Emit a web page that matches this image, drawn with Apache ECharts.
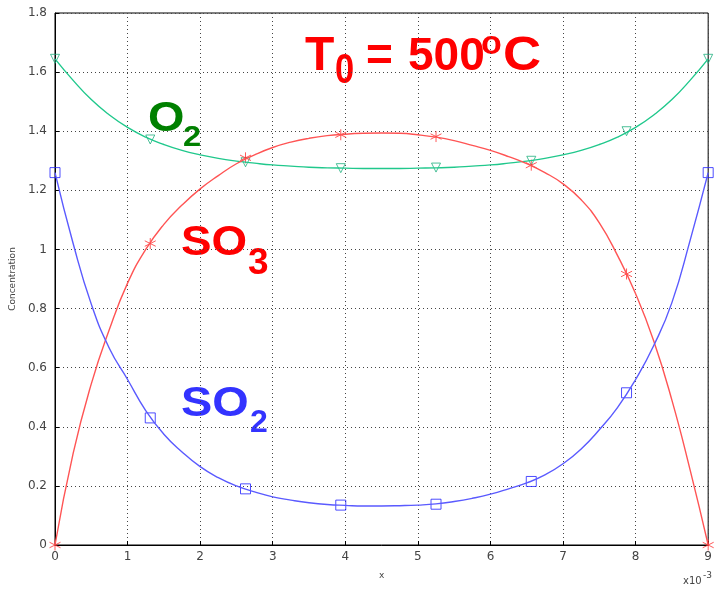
<!DOCTYPE html>
<html>
	<head>
		<meta charset="utf-8">
		<title></title>
		<script type="text/javascript" src="https://cdn.jsdelivr.net/npm/echarts@6/dist/echarts.min.js"></script>
	</head>
	<body style="margin:0;background:#fff;">
		<div id="chart" style="width:715px;height:592px;"></div>
		<script type="text/javascript">
			// curve samples, x in units of 1e-3
			var xs = [0, 0.25, 0.5, 0.75, 1, 1.25, 1.5, 1.75, 2, 2.25, 2.5, 2.75, 3, 3.25, 3.5, 3.75, 4, 4.25, 4.5,
				4.75, 5, 5.25, 5.5, 5.75, 6, 6.25, 6.5, 6.75, 7, 7.25, 7.5, 7.75, 8, 8.25, 8.5, 8.75, 9];
			var so2 = [1.26, 1.02, 0.815, 0.665, 0.56, 0.455, 0.375, 0.315, 0.265, 0.228, 0.2, 0.18, 0.163, 0.152, 0.143, 0.137, 0.134, 0.132, 0.132,
				0.133, 0.135, 0.139, 0.147, 0.158, 0.172, 0.19, 0.21, 0.237, 0.275, 0.325, 0.39, 0.465, 0.56, 0.675, 0.82, 1.03, 1.26];
			var so3 = [0, 0.31, 0.545, 0.73, 0.886, 1.0, 1.085, 1.15, 1.205, 1.25, 1.29, 1.32, 1.345, 1.363, 1.376, 1.385, 1.39, 1.393, 1.394,
				1.393, 1.388, 1.38, 1.368, 1.352, 1.335, 1.314, 1.29, 1.26, 1.222, 1.168, 1.09, 0.98, 0.85, 0.69, 0.49, 0.255, 0];
			var o2 = [1.645, 1.572, 1.507, 1.455, 1.413, 1.38, 1.355, 1.335, 1.32, 1.308, 1.299, 1.292, 1.286, 1.282, 1.278, 1.276, 1.275, 1.274, 1.274,
				1.274, 1.275, 1.276, 1.278, 1.282, 1.286, 1.292, 1.299, 1.308, 1.32, 1.335, 1.355, 1.38, 1.413, 1.455, 1.507, 1.572, 1.645];
			// marker positions and values
			var markX = [0, 1.3125, 2.625, 3.9375, 5.25, 6.5625, 7.875, 9];
			var o2Mark = [1.645, 1.372, 1.295, 1.275, 1.277, 1.30, 1.40, 1.645];
			var so3Mark = [0, 1.02, 1.31, 1.388, 1.382, 1.285, 0.917, 0];
			var so2Mark = [1.26, 0.43, 0.19, 0.135, 0.138, 0.215, 0.515, 1.26];

			function pairs(px, vals) {
				return px.map(function(x, i) { return [x, vals[i]]; });
			}

			// big bold label; sx stretches it sideways like the original
			function label(text, x, y, size, color, sx) {
				return {
					type: 'text', x: x, y: y, scaleX: sx || 1,
					style: { text: text, fill: color, font: 'bold ' + size + 'px "Liberation Sans"' }
				};
			}

			var myChart = echarts.init(document.getElementById('chart'));
			var dot = [1, 3];
			var asterisk = 'path://M0,-6L0,6M-5.2,-3L5.2,3M-5.2,3L5.2,-3';

			var option = {
				backgroundColor: '#fff',
				animation: false,
				grid: {
					left: 55, top: 13, right: 2, bottom: 47,
					show: true, borderColor: '#000', borderWidth: 1
				},
				xAxis: {
					type: 'value', min: 0, max: 9, interval: 1,
					name: 'x', nameLocation: 'middle', nameGap: 26,
					nameTextStyle: { fontFamily: 'DejaVu Sans', fontSize: 9, color: '#444' },
					axisLine: { lineStyle: { color: '#000' } },
					axisTick: { inside: true, length: 4, lineStyle: { color: '#000' } },
					axisLabel: { fontFamily: 'DejaVu Sans', fontSize: 12, color: '#444', margin: 6 },
					splitLine: { lineStyle: { color: '#444', type: dot } }
				},
				yAxis: {
					type: 'value', min: 0, max: 1.8, interval: 0.2,
					name: 'Concentration', nameLocation: 'middle', nameGap: 34, nameRotate: 90,
					nameTextStyle: { fontFamily: 'DejaVu Sans', fontSize: 9, color: '#444' },
					axisLine: { lineStyle: { color: '#000' } },
					axisTick: { inside: true, length: 4, lineStyle: { color: '#000' } },
					axisLabel: { fontFamily: 'DejaVu Sans', fontSize: 12, color: '#444', margin: 8 },
					splitLine: { lineStyle: { color: '#444', type: dot } }
				},
				series: [
					{ type: 'line', data: pairs(xs, o2), smooth: 0.5, showSymbol: false,
						lineStyle: { color: '#20c88c', width: 1.4 } },
					{ type: 'line', data: pairs(xs, so3), smooth: 0.5, showSymbol: false,
						lineStyle: { color: '#ff5454', width: 1.4 } },
					{ type: 'line', data: pairs(xs, so2), smooth: 0.5, showSymbol: false,
						lineStyle: { color: '#5a5aff', width: 1.4 } },
					{ type: 'scatter', data: pairs(markX, o2Mark), symbol: 'triangle', symbolRotate: 180, symbolSize: 9,
						itemStyle: { color: 'rgba(0,0,0,0)', borderColor: '#20b080', borderWidth: 1 } },
					{ type: 'scatter', data: pairs(markX, so3Mark), symbol: asterisk, symbolSize: 11,
						itemStyle: { color: 'rgba(0,0,0,0)', borderColor: '#ff3030', borderWidth: 1 } },
					{ type: 'scatter', data: pairs(markX, so2Mark), symbol: 'rect', symbolSize: 10,
						itemStyle: { color: 'rgba(0,0,0,0)', borderColor: '#2020ff', borderWidth: 1 } }
				],
				graphic: [
					// T0 = 500oC
					label('T', 305, 33, 48, '#ff0000'),
					label('0', 335, 50, 42, '#ff0000', 0.82),
					label('=', 366, 34, 46, '#ff0000'),
					label('500', 408, 34, 46, '#ff0000'),
					label('o', 481, 28, 34, '#ff0000'),
					label('C', 503, 33, 48, '#ff0000', 1.1),
					// O2
					label('O', 148, 98, 43, '#008000', 1.09),
					label('2', 183, 123, 30, '#008000', 1.09),
					// SO3
					label('SO', 181, 222, 42, '#ff0000', 1.09),
					label('3', 248, 245, 37, '#ff0000', 1.0),
					// SO2
					label('SO', 181, 383, 43, '#3333ff', 1.09),
					label('2', 250, 407, 32, '#3333ff', 1.0),
					// axis multiplier
					{ type: 'text', left: 683, top: 576, style: { text: 'x10', fill: '#444', font: '10px "DejaVu Sans"' } },
					{ type: 'text', left: 703, top: 571, style: { text: '-3', fill: '#444', font: '9px "DejaVu Sans"' } }
				]
			};
			myChart.setOption(option);
		</script>
	</body>
</html>
